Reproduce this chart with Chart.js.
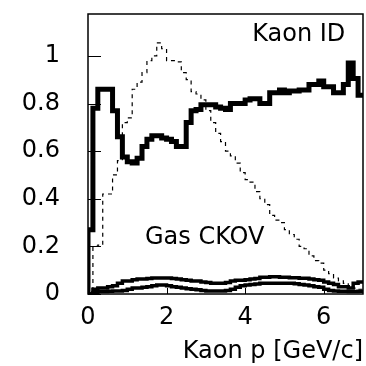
<!DOCTYPE html>
<html>
<head>
<meta charset="utf-8">
<script src="https://cdn.jsdelivr.net/npm/chart.js@4"></script>
<style>
  html, body { margin: 0; padding: 0; background: #fff; }
  #wrap { width: 366px; height: 366px; }
</style>
</head>
<body>
<div id="wrap"><canvas id="kaonChart" width="366" height="366"></canvas></div>
<script>
// Kaon momentum histograms, bins of 0.125 GeV/c from 0 to 7
const pEdges = [0, 0.125, 0.25, 0.375, 0.5, 0.625, 0.75, 0.875, 1, 1.125, 1.25, 1.375, 1.5, 1.625, 1.75, 1.875,
    2, 2.125, 2.25, 2.375, 2.5, 2.625, 2.75, 2.875, 3, 3.125, 3.25, 3.375, 3.5, 3.625, 3.75, 3.875,
    4, 4.125, 4.25, 4.375, 4.5, 4.625, 4.75, 4.875, 5, 5.125, 5.25, 5.375, 5.5, 5.625, 5.75, 5.875,
    6, 6.125, 6.25, 6.375, 6.5, 6.625, 6.75, 6.875, 7];

const kaonId = [0.27, 0.78, 0.86, 0.86, 0.86, 0.77, 0.66, 0.575, 0.555, 0.55, 0.57, 0.62, 0.65, 0.665, 0.665, 0.655,
    0.65, 0.64, 0.62, 0.62, 0.72, 0.77, 0.775, 0.795, 0.795, 0.795, 0.785, 0.78, 0.775, 0.8, 0.8, 0.8,
    0.815, 0.82, 0.82, 0.8, 0.8, 0.845, 0.845, 0.857, 0.845, 0.853, 0.853, 0.857, 0.857, 0.88, 0.88, 0.895,
    0.87, 0.87, 0.845, 0.845, 0.88, 0.97, 0.905, 0.835];

const momentumDist = [0, 0.2, 0.205, 0.42, 0.42, 0.5, 0.56, 0.72, 0.74, 0.86, 0.89, 0.93, 0.98, 1.0, 1.055, 1.03,
    0.98, 0.98, 0.975, 0.93, 0.9, 0.85, 0.84, 0.815, 0.77, 0.72, 0.675, 0.64, 0.6, 0.58, 0.55, 0.51,
    0.48, 0.47, 0.43, 0.4, 0.375, 0.33, 0.31, 0.3, 0.27, 0.25, 0.23, 0.2, 0.19, 0.16, 0.14, 0.13,
    0.1, 0.085, 0.067, 0.055, 0.045, 0.035, 0.025, 0.02];

const gasUpper = [0, 0.02, 0.025, 0.025, 0.03, 0.035, 0.045, 0.055, 0.055, 0.06, 0.063, 0.063, 0.065, 0.067, 0.067, 0.067,
    0.067, 0.065, 0.063, 0.06, 0.058, 0.055, 0.055, 0.05, 0.048, 0.045, 0.045, 0.045, 0.048, 0.055, 0.058, 0.058,
    0.06, 0.063, 0.065, 0.07, 0.07, 0.072, 0.072, 0.07, 0.07, 0.068, 0.068, 0.066, 0.066, 0.063, 0.06, 0.058,
    0.05, 0.045, 0.04, 0.03, 0.03, 0.025, 0.045, 0.05];

const gasLower = [0, 0.005, 0.01, 0.01, 0.012, 0.013, 0.013, 0.015, 0.02, 0.025, 0.025, 0.028, 0.03, 0.035, 0.038, 0.038,
    0.035, 0.03, 0.028, 0.025, 0.022, 0.02, 0.018, 0.015, 0.013, 0.013, 0.013, 0.013, 0.015, 0.02, 0.028, 0.035,
    0.038, 0.04, 0.042, 0.045, 0.045, 0.045, 0.045, 0.045, 0.045, 0.045, 0.043, 0.04, 0.038, 0.035, 0.03, 0.028,
    0.02, 0.015, 0.013, 0.012, 0.012, 0.01, 0.01, 0.012];

const xTicks = [0, 2, 4, 6];
const yTicks = [0, 0.2, 0.4, 0.6, 0.8, 1];
const yTickLabels = ['0', '0.2', '0.4', '0.6', '0.8', '1'];

const FONT = "'DejaVu Sans', sans-serif";

// histogram -> step points (value of bin i sits at its right edge, 'after' stepping)
function histPoints(values) {
    const pts = [{ x: pEdges[0], y: 0 }];
    values.forEach((v, i) => pts.push({ x: pEdges[i + 1], y: v }));
    return pts;
}

const frameAndLabels = {
    id: 'frameAndLabels',
    afterDraw(chart) {
        const { ctx, chartArea: a, scales: { x, y } } = chart;
        ctx.save();
        ctx.strokeStyle = '#000';
        ctx.lineWidth = 1.5;
        ctx.strokeRect(a.left, a.top, a.right - a.left, a.bottom - a.top);

        // inward tick marks
        ctx.lineWidth = 1;
        yTicks.forEach(v => {
            const py = Math.round(y.getPixelForValue(v)) + 0.5;
            ctx.beginPath();
            ctx.moveTo(a.left, py);
            ctx.lineTo(a.left + 13, py);
            ctx.stroke();
        });
        xTicks.forEach(v => {
            const px = Math.round(x.getPixelForValue(v)) + 0.5;
            ctx.beginPath();
            ctx.moveTo(px, a.bottom);
            ctx.lineTo(px, a.bottom - 6);
            ctx.stroke();
        });

        ctx.fillStyle = '#000';
        ctx.font = '24px ' + FONT;
        ctx.textBaseline = 'middle';
        ctx.textAlign = 'right';
        ctx.fillText('Kaon ID', x.getPixelForValue(6.55), y.getPixelForValue(1.088));
        ctx.textAlign = 'left';
        ctx.fillText('Gas CKOV', x.getPixelForValue(1.45), y.getPixelForValue(0.235));
        ctx.restore();
    }
};

new Chart(document.getElementById('kaonChart'), {
    type: 'line',
    data: {
        datasets: [
            {
                label: 'Kaon ID',
                data: histPoints(kaonId),
                stepped: 'after',
                borderColor: '#000',
                borderWidth: 5,
                borderJoinStyle: 'miter',
                pointRadius: 0,
                fill: false,
                order: 1
            },
            {
                label: 'Gas CKOV (upper)',
                data: histPoints(gasUpper),
                stepped: 'after',
                borderColor: '#000',
                borderWidth: 3.5,
                borderJoinStyle: 'miter',
                pointRadius: 0,
                fill: false,
                order: 2
            },
            {
                label: 'Gas CKOV (lower)',
                data: histPoints(gasLower),
                stepped: 'after',
                borderColor: '#000',
                borderWidth: 3.5,
                borderJoinStyle: 'miter',
                pointRadius: 0,
                fill: false,
                order: 3
            },
            {
                label: 'Kaon momentum',
                data: histPoints(momentumDist),
                stepped: 'after',
                borderColor: '#000',
                borderWidth: 1.2,
                borderDash: [4, 4],
                pointRadius: 0,
                fill: false,
                order: 4
            }
        ]
    },
    options: {
        responsive: false,
        animation: false,
        layout: { padding: { left: 0, right: 3, top: 14, bottom: 0 } },
        plugins: {
            legend: { display: false },
            tooltip: { enabled: false }
        },
        scales: {
            x: {
                type: 'linear',
                min: 0,
                max: 7,
                grid: { display: false, drawTicks: false },
                border: { display: false },
                afterBuildTicks: s => { s.ticks = xTicks.map(v => ({ value: v })); },
                afterFit: s => { s.height = 72; s.paddingLeft = 0; s.paddingRight = 0; },
                ticks: {
                    color: '#000',
                    padding: 9,
                    maxRotation: 0,
                    font: { family: FONT, size: 24 }
                },
                title: {
                    display: true,
                    text: 'Kaon p [GeV/c]',
                    align: 'end',
                    color: '#000',
                    padding: { top: 0, bottom: 0 },
                    font: { family: FONT, size: 24 }
                }
            },
            y: {
                min: 0,
                max: 1.176,
                grid: { display: false, drawTicks: false },
                border: { display: false },
                afterBuildTicks: s => { s.ticks = yTicks.map(v => ({ value: v })); },
                afterFit: s => { s.width = 88; s.paddingTop = 0; s.paddingBottom = 0; },
                ticks: {
                    color: '#000',
                    padding: 28,
                    font: { family: FONT, size: 24 },
                    callback: (v) => yTickLabels[yTicks.indexOf(v)] ?? ''
                }
            }
        }
    },
    plugins: [frameAndLabels]
});
</script>
</body>
</html>
